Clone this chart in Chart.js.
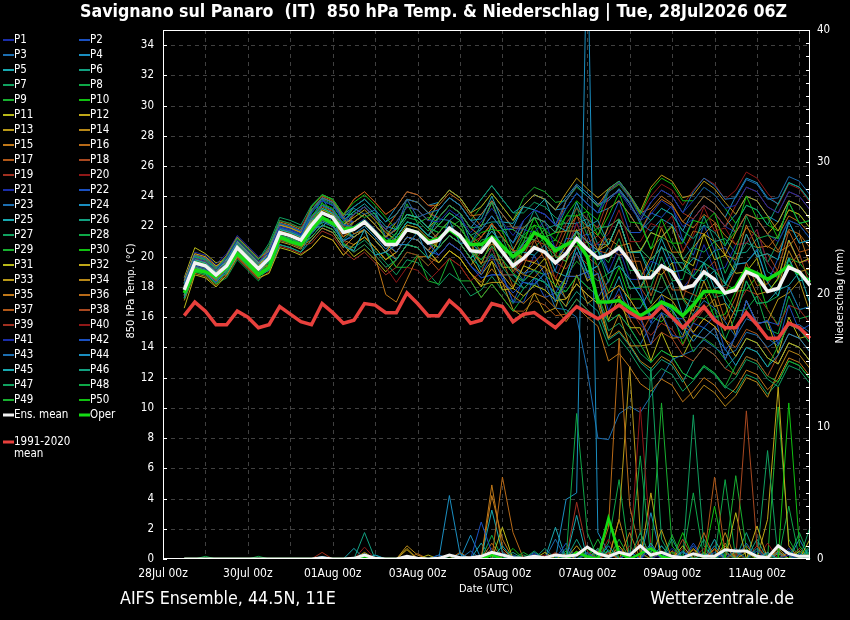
<!DOCTYPE html>
<html><head><meta charset="utf-8">
<script src="https://cdn.jsdelivr.net/npm/chart.js@4/dist/chart.umd.min.js"></script>
<style>html,body{margin:0;padding:0;background:#000;}canvas{display:block;}</style>
</head><body>
<canvas id="c" width="850" height="620"></canvas>
<script>
// ---- axis categories (6-hourly steps) ----
const dayNames = ['28Jul','29Jul','30Jul','31Jul','01Aug','02Aug','03Aug','04Aug','05Aug','06Aug','07Aug','08Aug','09Aug','10Aug','11Aug','12Aug'];
const hourNames = ['00z','06z','12z','18z'];
const timeSteps = dayNames.flatMap(d => hourNames.map(h => d + ' ' + h)).slice(0, 62);
const validTimes = timeSteps.slice(2); // forecast steps 28Jul 12z .. 12Aug 06z
const leftTicks = [0,2,4,6,8,10,12,14,16,18,20,22,24,26,28,30,32,34];
const rightLabels = [0,10,20,30,40];

// ---- 850 hPa temperature (deg C) ----
const tempMean = [17.8,19.6,19.4,18.8,19.4,20.6,19.9,19.2,19.9,21.6,21.4,21.1,22.1,22.9,22.6,21.6,21.8,22.3,21.6,20.8,20.8,21.8,21.6,20.9,21.1,21.9,21.4,20.4,20.3,21.2,20.3,19.4,19.9,20.6,20.3,19.6,20.2,21.2,20.5,19.9,20.1,20.6,19.7,18.6,18.6,19.4,19.0,17.9,18.1,19.0,18.5,17.6,17.8,19.0,18.7,17.7,17.9,19.3,19.0,18.1];
const tempOper = [17.6,19.1,19.0,18.7,19.3,20.2,19.6,18.8,19.3,21.3,21.0,20.8,21.8,22.6,22.2,21.8,21.9,22.3,21.6,21.0,21.0,21.8,21.6,21.0,21.2,21.8,21.3,20.8,20.8,21.3,20.7,20.0,20.5,21.6,21.2,20.4,20.8,21.1,20.0,17.0,17.0,17.1,16.6,16.1,16.5,17.0,16.7,16.1,16.8,17.7,17.7,17.6,18.0,19.2,18.9,18.5,18.9,19.4,18.9,18.3];
const climMean = [16.1,17.0,16.4,15.5,15.5,16.4,16.0,15.3,15.5,16.7,16.2,15.7,15.5,16.9,16.3,15.6,15.8,16.9,16.8,16.3,16.3,17.6,16.9,16.1,16.1,17.1,16.5,15.6,15.8,16.9,16.7,15.7,16.2,16.3,15.8,15.3,16.0,16.7,16.3,15.9,16.3,16.8,16.3,15.9,16.0,16.7,16.0,15.3,16.0,16.7,15.8,15.3,15.3,16.3,15.5,14.6,14.6,15.6,15.3,14.6];

const tP01 = [18.1,19.9,19.7,19.1,19.9,21.1,20.4,19.7,20.3,22.0,21.8,21.5,22.9,23.7,23.4,22.4,22.8,23.3,22.6,21.8,22.3,23.3,23.1,22.4,22.3,23.1,22.6,21.6,22.3,23.2,22.3,21.4,22.4,23.1,22.8,22.1,23.2,24.2,23.5,22.9,24.3,24.9,23.9,22.6,23.6,24.4,24.0,22.9,23.7,24.6,24.1,23.2,23.4,24.6,24.3,23.3,22.9,24.3,24.0,23.1];
const tP02 = [17.6,19.4,19.2,18.6,19.4,20.6,19.9,19.2,20.2,21.9,21.7,21.4,22.6,23.4,23.1,22.1,22.0,22.5,21.8,21.0,20.3,21.3,21.1,20.4,20.1,20.9,20.4,19.4,18.8,20.1,18.5,17.6,18.3,18.2,18.9,17.1,18.2,20.3,18.6,18.9,16.4,17.9,16.0,15.9,14.2,16.3,14.8,14.6,15.6,15.3,16.1,13.8,14.7,17.1,15.5,15.8,14.2,16.8,15.1,15.5];
const tP03 = [18.3,20.1,19.9,19.3,19.7,20.9,20.2,19.5,20.5,22.2,22.0,21.7,23.1,23.9,23.6,22.6,23.3,23.8,23.1,22.3,22.8,23.8,23.6,22.9,23.1,23.9,23.4,22.4,21.8,22.7,21.8,20.9,22.4,23.1,22.8,22.1,23.7,24.7,24.0,23.4,23.9,24.4,23.5,22.4,23.6,24.4,24.0,22.9,24.3,25.2,24.7,23.8,23.9,25.1,24.8,23.8,23.9,25.3,25.0,24.1];
const tP04 = [17.3,19.1,18.9,18.3,19.1,20.3,19.6,18.9,19.9,21.6,21.4,21.1,21.9,22.0,22.6,20.7,20.4,21.8,20.1,20.3,20.8,20.8,21.6,19.9,20.7,22.4,20.9,20.9,20.8,21.7,20.8,19.9,20.9,21.6,21.3,20.6,20.7,21.7,21.0,20.4,18.9,19.4,18.5,17.4,16.1,16.9,16.5,15.4,14.4,15.3,14.8,13.9,12.8,14.0,13.7,12.7,13.5,14.9,14.6,13.7];
const tP05 = [18.0,19.8,19.6,19.0,19.8,21.0,20.3,19.6,20.1,21.8,21.6,21.3,22.9,23.7,23.4,22.4,23.0,23.5,22.8,22.0,21.8,22.8,22.6,21.9,23.1,23.9,23.4,22.4,22.5,24.0,22.3,22.2,23.3,23.1,23.8,22.1,21.7,23.6,22.0,22.4,20.8,22.4,20.3,20.3,18.6,20.7,19.0,19.1,19.9,19.6,20.4,18.2,19.2,21.5,20.0,20.2,19.8,22.3,20.9,21.1];
const tP06 = [17.5,19.3,19.1,18.5,18.9,20.1,19.4,18.7,19.1,20.8,20.6,20.3,21.6,22.4,22.1,21.1,21.8,22.3,21.6,20.8,21.3,22.3,22.1,21.4,22.1,22.9,22.4,21.4,21.8,22.7,21.8,20.9,21.9,22.6,22.3,21.6,23.2,24.2,23.5,22.9,24.5,25.0,24.1,23.0,22.4,23.2,22.8,21.7,21.2,22.1,21.6,20.7,22.2,23.4,23.1,22.1,23.5,24.9,24.6,23.7];
const tP07 = [17.8,19.6,19.4,18.8,19.6,20.8,20.1,19.4,19.6,21.3,21.1,20.8,21.3,22.1,21.8,20.8,20.3,20.8,20.1,19.3,19.8,20.8,20.6,19.9,20.6,21.4,20.9,19.9,19.3,20.2,19.3,18.4,17.9,18.6,18.3,17.6,16.2,17.2,16.5,15.9,14.1,14.6,13.7,12.6,11.8,12.6,12.2,11.1,11.8,12.7,12.2,11.3,12.0,13.2,12.9,11.9,11.4,12.8,12.5,11.6];
const tP08 = [18.2,20.0,19.8,19.2,20.0,21.2,20.5,19.8,20.7,22.4,22.2,21.9,22.6,23.4,23.1,22.1,21.8,22.3,21.6,20.8,21.6,22.6,22.4,21.7,22.6,23.4,22.9,21.9,22.0,23.6,21.8,21.8,21.3,21.1,21.8,20.0,19.7,21.7,20.0,20.4,18.3,20.0,17.9,18.0,18.0,20.0,18.4,18.5,20.6,20.3,21.0,18.9,20.4,22.7,21.2,21.4,21.2,23.6,22.2,22.4];
const tP09 = [17.2,19.0,18.8,18.2,19.0,20.2,19.5,18.8,19.7,21.4,21.2,20.9,22.1,23.6,22.4,22.3,23.0,22.6,22.9,21.0,21.5,23.5,22.2,22.6,22.0,21.9,22.4,20.4,19.8,20.7,19.8,18.9,18.4,19.1,18.8,18.1,17.7,18.7,18.0,17.4,15.7,16.2,15.3,14.2,13.0,13.8,13.4,12.3,11.9,12.8,12.3,11.4,12.8,14.0,13.7,12.7,14.1,15.5,15.2,14.3];
const tP10 = [17.9,19.7,19.5,18.9,19.2,20.4,19.7,19.0,20.1,21.8,21.6,21.3,23.3,24.1,23.8,22.8,23.6,24.1,23.4,22.6,21.8,22.8,22.6,21.9,21.6,22.4,21.9,20.9,21.6,21.8,21.7,20.0,21.0,22.6,21.3,21.6,22.7,22.7,23.0,21.4,22.7,24.2,22.3,22.2,20.5,22.5,20.9,20.9,22.4,22.2,22.9,20.8,21.7,24.0,22.5,22.6,21.2,23.6,22.2,22.4];
const tP11 = [16.6,18.8,18.6,18.0,18.8,20.0,19.3,18.6,18.9,20.6,20.4,20.1,20.6,21.4,21.1,20.1,20.8,21.3,20.6,19.8,20.3,21.3,21.1,20.4,19.6,20.4,19.9,18.9,18.0,19.7,17.8,17.9,19.4,19.1,19.9,18.0,19.6,21.8,19.9,20.4,20.8,22.4,20.3,20.4,21.6,21.3,22.0,19.8,19.4,21.5,19.8,20.1,18.9,19.0,19.9,17.6,18.6,21.1,19.6,19.9];
const tP12 = [18.4,20.2,20.0,19.4,19.8,21.0,20.3,19.6,19.9,21.6,21.4,21.1,22.6,23.4,23.1,22.1,22.6,23.1,22.4,21.6,21.1,22.1,21.9,21.2,20.6,21.4,20.9,19.9,18.8,19.7,18.8,17.9,17.4,18.1,17.8,17.1,17.2,18.2,17.5,16.9,17.6,18.1,17.2,16.1,16.7,17.5,17.1,16.0,15.0,15.9,15.4,14.5,13.4,14.6,14.3,13.3,12.9,14.3,14.0,13.1];
const tP13 = [17.5,19.3,19.1,18.5,19.6,20.8,20.1,19.4,20.4,22.1,21.9,21.6,22.3,23.1,22.8,21.8,22.3,22.8,22.1,21.3,22.3,23.3,23.1,22.4,23.6,24.4,23.9,22.9,23.3,24.2,23.3,22.4,23.4,24.1,23.8,23.1,24.2,25.2,24.5,23.9,24.5,25.0,24.1,23.0,24.6,25.4,25.0,23.9,24.1,25.0,24.5,23.6,22.8,24.0,23.7,22.7,21.7,23.1,22.8,21.9];
const tP14 = [18.1,19.9,19.7,19.1,19.3,20.5,19.8,19.1,19.5,21.2,21.0,20.7,21.1,21.9,21.6,20.6,21.3,21.8,21.1,20.3,20.8,21.8,21.6,20.9,21.6,22.4,21.9,20.9,19.5,21.1,19.3,19.3,18.8,18.6,19.4,17.5,16.7,18.8,16.9,17.4,14.6,16.2,14.1,14.1,14.2,16.2,14.6,14.7,16.8,16.5,17.2,15.1,16.6,19.0,17.5,17.7,18.0,20.4,19.0,19.2];
const tP15 = [17.7,19.9,19.7,19.1,19.7,20.9,20.2,19.5,20.6,22.3,22.1,21.8,23.1,23.9,23.6,22.6,21.5,21.8,20.0,17.5,17.0,18.5,20.0,20.0,19.6,20.4,19.9,18.9,18.3,19.2,18.3,17.4,16.9,17.6,17.3,16.6,15.7,16.7,16.0,15.4,13.1,13.6,12.7,11.6,11.1,11.9,11.5,10.4,11.1,12.0,11.5,10.6,11.3,12.5,12.2,11.2,11.9,13.3,13.0,12.1];
const tP16 = [18.3,20.1,19.9,19.3,20.1,21.3,20.6,19.9,20.4,22.1,21.9,21.6,23.3,24.0,23.7,22.7,23.8,24.3,23.6,22.8,23.3,24.3,24.1,23.4,23.4,24.2,23.7,22.7,22.8,23.7,22.8,21.9,21.9,22.6,22.3,21.6,21.7,22.7,22.0,21.4,23.2,23.7,22.8,21.7,23.0,23.8,23.4,22.3,23.1,24.0,23.5,22.6,21.6,22.8,22.5,21.5,20.4,21.8,21.5,20.6];
const tP17 = [17.4,19.2,19.0,18.4,19.2,20.4,19.7,19.0,19.9,21.6,21.4,21.1,21.8,22.6,22.3,21.3,22.3,22.8,22.1,21.3,21.8,22.8,22.6,21.9,21.1,21.9,21.4,20.4,19.6,19.8,19.8,18.0,19.4,21.1,19.8,20.1,21.7,21.7,22.0,20.4,20.2,21.8,19.7,19.7,17.4,19.4,17.8,17.8,17.5,17.2,17.9,15.8,17.3,19.6,18.1,18.2,19.2,21.7,20.3,20.5];
const tP18 = [18.0,19.8,19.6,19.0,19.4,20.6,19.9,19.2,19.4,21.1,20.9,20.6,22.1,22.9,22.6,21.6,22.8,23.3,22.6,21.8,22.8,23.8,23.6,22.9,22.6,23.4,22.9,21.9,21.3,22.2,21.3,20.4,20.4,21.1,20.8,20.1,19.7,20.7,20.0,19.4,17.6,18.1,17.2,16.1,14.2,15.0,14.6,13.5,13.1,14.0,13.5,12.6,12.2,13.4,13.1,12.1,13.5,14.9,14.6,13.7];
const tP19 = [17.6,19.4,19.2,18.6,18.8,20.0,19.3,18.6,19.5,21.2,21.0,20.7,20.9,21.7,21.4,20.4,19.8,20.3,19.6,18.8,19.3,20.3,20.1,19.4,20.1,20.9,20.4,19.4,20.3,21.2,20.3,19.4,20.9,21.6,21.3,20.6,22.2,23.2,22.5,21.9,23.9,24.4,23.5,22.4,23.6,24.4,24.0,22.9,22.5,23.4,22.9,22.0,23.4,24.6,24.3,23.3,22.9,24.3,24.0,23.1];
const tP20 = [17.8,19.6,19.4,18.8,19.9,21.1,20.4,19.7,20.1,21.8,21.6,21.3,21.6,22.4,22.1,21.1,20.3,20.8,20.1,19.3,18.3,19.3,19.1,18.4,19.1,19.9,19.4,18.4,19.0,20.6,18.8,18.8,19.8,19.7,20.3,18.5,20.2,22.2,20.5,20.9,21.5,23.1,21.0,21.0,22.2,21.9,22.7,20.4,21.4,23.3,21.7,21.9,20.8,20.9,21.8,19.6,18.6,21.0,19.6,19.8];
const tP21 = [18.5,20.3,20.1,19.5,20.2,21.4,20.7,20.0,20.5,22.2,22.0,21.7,23.1,23.9,23.6,22.6,22.3,22.8,22.1,21.3,20.8,21.8,21.6,20.9,21.6,22.4,21.9,20.9,21.8,22.7,21.8,20.9,22.4,23.1,22.8,22.1,23.2,24.2,23.5,22.9,23.9,24.3,23.3,22.4,22.8,23.7,23.2,22.0,22.5,23.4,22.9,22.0,21.6,22.8,22.5,21.5,21.0,22.4,22.1,21.2];
const tP22 = [17.3,19.1,18.9,18.3,19.2,20.4,19.7,19.0,20.3,22.0,21.8,21.5,22.9,23.7,23.4,22.4,22.3,22.8,22.1,21.3,20.8,21.8,21.6,20.9,20.1,20.9,20.4,19.4,18.6,18.8,18.8,17.0,17.0,18.6,17.3,17.6,18.7,18.7,19.0,17.3,18.4,20.0,17.9,17.9,15.6,17.5,15.9,15.9,14.9,14.6,15.3,13.2,14.8,17.1,15.6,15.7,15.5,18.0,16.5,16.7];
const tP23 = [18.1,19.9,19.7,19.1,19.5,20.7,20.0,19.3,20.2,21.9,21.7,21.4,22.6,23.4,23.1,22.1,22.3,22.8,22.1,21.3,21.8,22.8,22.6,21.9,21.6,22.4,21.9,20.9,20.3,21.2,20.3,19.4,18.9,19.1,18.3,16.6,16.5,16.0,12.5,8.0,7.9,9.6,10.1,9.7,10.8,12.0,13.2,13.5,13.8,14.5,14.0,13.5,13.8,15.0,14.8,14.0,14.5,15.5,15.5,15.0];
const tP24 = [17.7,19.5,19.3,18.7,19.6,20.8,20.1,19.4,19.7,21.4,21.2,20.9,21.5,22.3,22.0,21.0,21.5,22.0,21.3,20.5,21.3,22.3,22.1,21.4,22.6,23.4,22.9,21.9,22.8,23.7,22.8,21.9,23.4,24.1,23.8,23.1,23.2,24.2,23.5,22.9,23.2,23.7,22.8,21.7,22.4,23.2,22.8,21.7,23.1,24.0,23.5,22.6,24.0,25.2,24.9,23.9,23.5,24.9,24.6,23.7];
const tP25 = [18.2,20.0,19.8,19.2,19.6,20.8,20.1,19.4,19.9,21.6,21.4,21.1,22.4,23.2,22.9,21.9,21.3,21.8,21.1,20.3,19.8,20.8,20.6,19.9,20.6,21.4,20.9,19.9,20.5,22.1,20.3,20.3,20.3,20.1,20.8,19.0,18.7,20.7,19.0,19.4,17.1,18.7,16.6,16.6,17.9,17.6,18.3,16.1,17.6,19.6,17.9,18.1,19.5,19.6,20.4,18.3,17.4,19.9,18.4,18.6];
const tP26 = [17.5,19.3,19.1,18.5,18.9,20.1,19.4,18.7,19.7,21.4,21.2,20.9,22.6,23.4,23.1,22.1,22.8,23.3,22.6,21.8,21.3,22.3,22.1,21.4,21.1,21.9,21.4,20.4,19.8,20.7,19.8,18.9,17.9,18.6,18.3,17.6,16.7,17.7,17.0,16.4,14.5,15.0,14.1,13.0,12.4,13.2,12.8,11.7,13.1,14.0,13.5,12.6,13.4,14.6,14.3,13.3,12.9,14.3,14.0,13.1];
const tP27 = [18.0,19.8,19.6,19.0,20.0,21.2,20.5,19.8,20.9,22.6,22.4,22.1,23.4,24.1,23.8,22.8,22.8,23.3,22.6,21.8,22.3,23.3,23.1,22.4,23.6,24.4,23.9,22.9,23.8,24.7,23.8,22.9,22.9,23.6,23.3,22.6,22.2,23.2,22.5,21.9,22.0,22.5,21.6,20.5,19.8,20.6,20.2,19.1,18.7,19.6,19.1,18.2,19.7,20.9,20.6,19.6,21.0,22.4,22.1,21.2];
const tP28 = [17.2,19.0,18.8,18.2,18.6,19.8,19.1,18.4,19.4,21.1,20.9,20.6,22.1,22.9,22.6,21.6,22.3,22.8,22.1,21.3,20.8,21.8,21.6,20.9,20.6,21.4,20.9,19.9,21.1,21.3,21.3,19.5,21.0,22.6,21.3,21.6,21.7,21.7,22.0,20.4,19.6,21.2,19.1,19.1,16.9,18.8,17.2,17.2,16.1,15.9,16.6,14.5,16.1,18.4,16.9,17.0,17.4,19.8,18.4,18.6];
const tP29 = [17.9,19.7,19.5,18.9,19.4,20.6,19.9,19.2,20.2,21.9,21.7,21.4,22.1,22.2,22.8,20.9,20.4,21.8,20.1,20.3,19.3,19.3,20.1,18.4,18.2,19.9,18.4,18.4,17.3,18.2,17.3,16.4,17.4,18.1,17.8,17.1,18.7,19.7,19.0,18.4,18.9,19.4,18.5,17.4,16.1,16.9,16.5,15.4,13.7,14.6,14.1,13.2,12.2,13.4,13.1,12.1,11.7,13.1,12.8,11.9];
const tP30 = [17.6,19.4,19.2,18.6,19.5,20.7,20.0,19.3,19.9,21.6,21.4,21.1,22.7,23.5,23.2,22.2,23.3,23.8,23.1,22.3,22.8,23.8,23.6,22.9,22.1,22.9,22.4,21.4,20.8,21.7,20.8,19.9,21.4,22.1,21.8,21.1,22.7,23.7,23.0,22.4,24.3,24.8,23.9,22.8,24.4,25.2,24.8,23.7,23.7,24.6,24.1,23.2,22.2,23.4,23.1,22.1,21.7,23.1,22.8,21.9];
const tP31 = [18.6,20.6,20.2,19.6,19.8,21.0,20.3,19.6,19.7,21.4,21.2,20.9,21.3,22.1,21.8,20.8,20.0,20.5,19.8,19.0,19.8,20.8,20.6,19.9,21.1,21.9,21.4,20.4,20.5,22.1,20.3,20.3,19.8,19.6,20.4,18.5,18.2,20.3,18.4,18.9,15.8,17.4,15.3,15.3,13.1,15.0,13.4,13.4,14.8,14.6,15.3,13.2,14.8,17.1,15.6,15.7,13.6,16.0,14.6,14.8];
const tP32 = [17.4,19.2,19.0,18.4,19.4,20.6,19.9,19.2,20.4,22.1,21.9,21.6,23.1,23.9,23.6,22.6,22.3,22.8,22.1,21.3,21.8,22.8,22.6,21.9,22.6,23.4,22.9,21.9,21.3,22.2,21.3,20.4,19.9,20.6,20.3,19.6,20.7,21.7,21.0,20.4,22.0,22.5,21.6,20.5,19.8,20.6,20.2,19.1,20.6,21.5,21.0,20.1,21.6,22.8,22.5,21.5,22.3,23.7,23.4,22.5];
const tP33 = [17.8,19.6,19.4,18.8,19.1,20.3,19.6,18.9,19.3,21.0,20.8,20.5,21.8,22.6,22.3,21.3,21.8,22.3,21.6,20.8,20.3,21.3,21.1,20.4,19.6,20.4,19.9,18.9,18.1,18.3,18.3,16.5,16.0,17.6,16.3,16.6,18.7,18.7,19.0,17.3,18.4,20.0,17.9,17.9,19.1,18.8,19.6,17.3,16.4,18.4,16.7,16.9,14.8,17.1,15.6,15.7,17.2,17.6,18.4,16.3];
const tP34 = [18.3,20.1,19.9,19.3,19.6,20.8,20.1,19.4,20.5,22.2,22.0,21.7,22.1,22.9,22.6,21.6,21.3,21.8,21.1,20.3,21.3,22.3,22.1,21.4,22.1,22.9,22.4,21.4,20.3,21.2,20.3,19.4,18.9,19.6,19.3,18.6,17.2,18.2,17.5,16.9,14.6,15.1,14.2,13.1,12.6,13.4,13.0,11.9,10.6,11.5,11.0,10.1,10.8,12.0,11.7,10.7,12.4,13.8,13.5,12.6];
const tP35 = [17.1,18.9,18.7,18.1,19.0,20.2,19.5,18.8,19.9,21.6,21.4,21.1,22.6,23.4,23.1,22.1,22.8,23.3,22.6,21.8,22.8,23.8,23.6,22.9,23.6,24.4,23.9,22.9,22.0,23.6,21.8,21.8,21.3,21.1,21.8,20.0,19.7,21.7,20.0,20.4,21.2,20.7,20.9,18.6,20.0,21.9,20.3,20.3,21.7,21.5,22.2,20.1,19.8,22.1,20.6,20.7,20.3,20.7,21.5,19.4];
const tP36 = [18.0,19.8,19.6,19.0,19.7,20.9,20.2,19.5,20.0,21.7,21.5,21.2,21.6,22.4,22.1,21.1,20.8,21.3,20.6,19.8,20.3,21.3,21.1,20.4,21.1,21.9,21.4,20.4,21.3,22.2,21.3,20.4,21.9,22.6,22.3,21.6,23.7,24.7,24.0,23.4,24.4,24.9,24.0,22.9,23.2,24.0,23.5,22.3,21.9,22.8,22.3,21.4,20.8,21.9,21.4,20.6,21.4,22.7,22.3,21.5];
const tP37 = [17.7,19.5,19.3,18.7,19.1,20.3,19.6,18.9,20.1,21.8,21.6,21.3,22.5,23.3,23.0,22.0,21.8,22.3,21.6,20.8,19.8,20.8,20.6,19.9,19.1,19.9,19.4,18.4,17.3,18.2,17.3,16.4,16.4,17.1,16.8,16.1,16.2,17.2,16.5,15.9,16.3,16.8,15.9,14.8,16.1,16.9,16.5,15.4,15.0,15.9,15.4,14.5,14.0,15.2,14.9,13.9,12.9,14.3,14.0,13.1];
const tP38 = [18.1,19.9,19.7,19.1,19.9,21.1,20.4,19.7,20.2,21.9,21.7,21.4,22.6,23.4,23.1,22.1,22.8,23.3,22.6,21.8,20.8,21.8,21.6,20.9,20.6,21.4,20.9,19.9,20.6,20.8,20.8,19.0,20.0,21.6,20.3,20.6,20.7,22.8,20.9,21.4,20.6,20.1,20.3,18.0,16.9,18.8,17.2,17.2,19.2,19.0,19.7,17.6,19.2,21.5,20.0,20.2,19.0,19.4,20.2,18.1];
const tP39 = [17.3,19.1,18.9,18.3,18.7,19.9,19.2,18.5,19.0,20.7,20.5,20.2,20.6,21.4,21.1,20.1,20.8,21.3,20.6,19.8,20.3,21.3,21.1,20.4,21.6,22.4,21.9,20.9,21.3,22.2,21.3,20.4,19.9,20.6,20.3,19.6,19.2,20.2,19.5,18.9,17.0,17.5,16.6,15.5,14.8,15.6,15.2,14.1,15.6,16.5,16.0,15.1,16.6,17.8,17.5,16.5,15.4,16.8,16.5,15.6];
const tP40 = [18.4,20.2,20.0,19.4,19.8,21.0,20.3,19.6,20.7,22.4,22.2,21.9,23.3,24.1,23.8,22.8,23.8,24.3,23.6,22.8,23.3,24.3,24.1,23.4,23.1,23.9,23.4,22.4,21.8,22.7,21.8,20.9,22.4,23.1,22.8,22.1,23.7,24.7,24.0,23.4,24.3,24.8,23.9,22.8,24.0,24.8,24.4,23.4,24.4,25.2,24.8,23.8,24.4,25.6,25.2,24.2,23.4,24.8,24.5,23.6];
const tP41 = [17.6,19.4,19.2,18.6,19.3,20.5,19.8,19.1,19.6,21.3,21.1,20.8,22.1,22.9,22.6,21.6,22.3,22.8,22.1,21.3,21.8,22.8,22.6,21.9,22.6,23.4,22.9,21.9,22.0,23.7,21.8,21.9,21.8,21.6,22.4,20.5,20.2,22.3,20.4,20.9,19.0,20.6,18.5,18.5,19.7,19.4,20.2,17.9,18.8,20.8,19.1,19.3,20.8,20.9,21.8,19.6,18.6,21.1,19.6,19.8];
const tP42 = [17.9,19.7,19.5,18.9,19.8,21.0,20.3,19.6,19.9,21.6,21.4,21.1,21.6,22.4,22.1,21.1,21.3,21.8,21.1,20.3,20.8,21.8,21.6,20.9,20.1,20.9,20.4,19.4,18.6,18.8,18.8,17.0,18.5,20.1,18.8,19.1,21.2,21.2,21.5,19.8,22.1,23.7,21.6,21.6,22.9,22.6,23.4,21.1,20.1,22.1,20.4,20.6,19.5,19.6,20.5,18.3,19.9,22.3,20.9,21.1];
const tP43 = [17.4,19.2,19.0,18.4,19.2,20.4,19.7,19.0,20.1,21.8,21.6,21.3,22.4,23.9,22.7,22.6,23.2,22.8,23.1,21.3,21.9,23.8,22.6,22.9,22.5,22.4,22.9,20.9,20.3,21.2,20.3,19.4,18.4,19.1,18.8,18.1,17.2,18.2,17.5,16.9,15.7,16.2,15.3,14.2,15.5,16.3,15.9,14.8,16.2,17.1,16.6,15.7,14.7,15.9,15.6,14.6,14.1,15.5,15.2,14.3];
const tP44 = [18.2,20.0,19.8,19.2,20.1,21.3,20.6,19.9,20.4,22.1,21.9,21.6,23.3,24.1,23.8,22.8,23.3,23.8,23.1,22.3,23.3,24.3,24.1,23.4,23.6,24.4,23.9,22.9,23.8,24.7,23.8,22.9,23.4,24.1,23.8,23.1,23.9,24.8,24.2,23.5,23.7,24.5,23.6,22.2,21.7,22.5,22.1,21.0,22.5,23.4,22.9,22.0,22.8,24.0,23.7,22.7,22.3,23.7,23.4,22.5];
const tP45 = [17.8,19.6,19.4,18.8,19.0,20.2,19.5,18.8,19.1,20.8,20.6,20.3,21.1,21.9,21.6,20.6,21.3,21.8,21.1,20.3,21.3,22.3,22.1,21.4,21.1,21.9,21.4,20.4,19.0,20.6,18.8,18.8,18.3,18.1,18.9,17.0,18.7,20.7,19.0,19.4,20.6,20.1,20.3,18.0,19.3,21.2,19.6,19.6,18.6,18.4,19.1,17.0,16.1,18.4,16.9,17.0,17.8,18.1,19.0,16.9];
const tP46 = [18.0,19.8,19.6,19.0,19.6,20.8,20.1,19.4,20.5,22.2,22.0,21.7,22.4,23.2,22.9,21.9,21.8,22.3,21.6,20.8,20.3,21.3,21.1,20.4,21.6,22.4,21.9,20.9,22.1,22.3,22.3,20.5,21.5,23.1,21.8,22.1,22.2,22.2,22.5,20.8,20.8,22.4,20.3,20.3,21.6,21.3,22.1,19.8,20.7,22.7,21.0,21.2,20.2,20.3,21.2,19.0,18.6,21.1,19.6,19.8];
const tP47 = [17.5,19.3,19.1,18.5,19.4,20.6,19.9,19.2,19.4,21.1,20.9,20.6,21.3,22.1,21.8,20.8,20.6,21.1,20.4,19.6,18.8,19.8,19.6,18.9,18.1,18.9,18.4,17.4,17.8,18.7,17.8,16.9,17.9,18.6,18.3,17.6,17.7,18.7,18.0,17.4,15.1,15.6,14.7,13.6,13.0,13.8,13.4,12.3,11.9,12.8,12.3,11.4,11.0,12.2,11.9,10.9,11.7,13.1,12.8,11.9];
const tP48 = [18.3,20.1,19.9,19.3,19.7,20.9,20.2,19.5,20.3,22.0,21.8,21.5,23.0,23.8,23.5,22.5,22.3,22.8,22.1,21.3,21.8,22.8,22.6,21.9,21.1,21.9,21.4,20.4,19.5,21.1,19.3,19.3,20.8,20.6,21.3,19.5,21.2,23.3,21.4,21.9,20.8,22.4,20.3,20.3,19.1,18.8,19.6,17.3,17.0,19.0,17.3,17.5,16.4,16.5,17.4,15.2,14.9,17.4,15.9,16.1];
const tP49 = [17.7,19.5,19.3,18.7,19.9,21.1,20.4,19.7,20.2,21.9,21.7,21.4,22.1,22.9,22.6,21.6,22.3,22.8,22.1,21.3,21.8,22.8,22.6,21.9,23.1,23.9,23.4,22.4,23.3,24.2,23.3,22.4,23.9,24.6,24.3,23.6,23.7,24.6,24.0,23.3,23.9,24.4,23.5,22.4,20.5,21.3,20.9,19.8,18.7,19.6,19.1,18.2,17.8,19.0,18.7,17.7,18.5,19.9,19.6,18.7];
const tP50 = [18.1,19.3,19.1,18.5,19.1,20.3,19.6,18.9,19.9,21.6,21.4,21.1,22.3,23.1,22.8,21.8,21.3,21.8,21.1,20.3,19.3,20.3,20.1,19.4,20.1,20.9,20.4,19.4,20.6,20.8,20.8,19.0,20.5,22.1,20.8,21.1,20.7,20.7,21.0,19.3,17.7,19.3,17.2,17.2,16.0,15.7,16.5,14.2,15.7,17.7,16.0,16.2,17.7,17.8,18.7,16.5,15.5,18.0,16.5,16.7];

// ---- 6-hourly precipitation (mm) ----
const precipMean = [0,0,0,0, 0,0,0,0, 0,0,0,0, 0,.1,0,0, .05,.3,.05,0, 0,.2,.05,0, .05,.3,.1,.1, .2,.5,.3,.1, .05,.2,.1,.3, .2,.3,.9,.4, .2,.5,.3,1.0, .3,.5,.2,.1, .4,.2,.2,.7, .6,.6,.2,.1, 1.0,.4,.2,.2];
const precipOper = [0,0,0,0, 0,0,0,0, 0,0,0,0, 0,0,0,0, 0,.2,0,0, 0,0,0,0, 0,0,0,0, 0,.3,0,0, 0,0,0,0, 0,.5,.2,0, 3.1,.5,0,.4, .8,.2,0,0, 0,0,0,0, 0,0,0,0, 0,0,0,0];

const pP01 = [0,0,0,0, 0,0,0,0, 0,0,0,0, 0,0,0,0, 0,0,0,0, 0,0,0,0, 0,0,0,0, 0,.3,0,0, 0,.2,0,0, 0,0,0,0, 0,.6,0,0, 0,.4,0,0, 0,0,0,0, .8,0,0,0, 0,.3,0,0];
const pP02 = [0,0,0,0, 0,0,0,0, 0,0,0,0, 0,0,0,0, 0,0,0,0, 0,0,0,0, .3,0,0,0, 2.8,.5,0,0, 0,0,0,0, 0,0,.4,0, 0,0,0,0, 1,0,0,0, 0,0,.5,0, 0,0,0,0, 0,0,0,0];
const pP03 = [0,0,0,0, 0,0,0,0, 0,0,0,0, 0,0,0,0, 0,.4,0,0, 0,0,0,0, 0,0,0,.6, 0,0,0,0, 0,0,0,0, .8,0,0,0, 0,0,.5,0, 0,0,0,0, 0,0,0,0, 0,1.2,0,0, 0,0,.4,0];
const pP04 = [0,0,0,0, 0,0,0,0, 0,0,0,0, 0,0,0,0, 0,0,0,0, 0,0,0,0, 0,4.8,.4,0, 0,0,0,.2, 0,0,0,0, 0,0,0,0, 1,0,0,0, 0,0,0,.6, 0,0,0,0, 0,0,0,.5, 0,0,0,0];
const pP05 = [0,0,0,0, 0,0,0,0, 0,0,0,0, 0,0,0,0, .8,0,.3,0, 0,0,0,0, 0,0,0,0, 0,0,1,0, 0,0,0,0, 0,3.3,0,0, 0,0,0,0, 1.2,0,0,0, 0,0,0,0, 0,0,0,0, 0,0,0,.8];
const pP06 = [0,0,0,0, 0,0,0,0, 0,0,0,0, 0,0,0,0, 0,0,0,0, 0,0,0,0, 0,0,0,0, 0,0,0,.5, 0,0,0,.3, 0,0,0,.8, 0,0,0,0, 0,0,1.5,0, 0,0,0,.6, 0,0,0,0, 0,0,0,0];
const pP07 = [0,0,0,0, 0,0,0,0, 0,0,0,0, 0,0,0,0, 0,0,0,0, 0,0,0,0, 0,0,0,0, 0,0,0,0, 0,.6,0,0, 0,0,0,0, 0,0,0,2, 0,0,0,0, 0,1.5,0,0, 0,0,0,.4, 0,0,0,2.4];
const pP08 = [0,0,.2,0, 0,0,0,.2, 0,0,0,0, 0,0,0,0, 0,0,0,0, 0,0,0,0, 0,0,0,0, 0,0,0,0, 0,0,0,0, 0,11,2,0, 0,0,0,7.8, 0,0,0,0, 0,0,0,0, 0,0,0,0, 0,0,2,0];
const pP09 = [0,0,0,0, 0,0,0,0, 0,0,0,0, 0,0,0,0, 0,0,0,0, 0,0,0,0, 0,0,0,0, 0,0,0,0, .5,0,0,0, 0,0,0,0, 0,1.5,0,0, 0,11.8,1,0, 0,0,0,0, .8,0,0,0, 0,0,0,0];
const pP10 = [0,0,0,0, 0,0,0,0, 0,0,0,0, 0,0,0,0, 0,0,0,0, 0,0,0,0, 0,0,0,0, 0,0,0,0, 0,0,0,0, 0,0,.8,0, 3,0,0,0, 0,0,0,0, 0,0,4,0, 0,0,0,0, 0,11.8,1,0];
const pP11 = [0,0,0,0, 0,0,0,0, 0,0,0,0, 0,0,0,0, 0,0,0,0, 0,0,0,.3, 0,0,0,0, 0,0,2.4,0, 0,0,0,0, 0,0,0,0, 0,0,0,0, 0,0,0,1, 0,0,0,0, 0,.5,0,0, 0,0,0,1.5];
const pP12 = [0,0,0,0, 0,0,0,0, 0,0,0,0, 0,0,0,0, 0,.5,0,0, 0,0,0,0, 0,0,0,0, 0,0,0,0, 0,0,0,0, 0,1,0,0, 0,0,0,0, 5,0,0,0, 0,0,0,0, 0,0,2.5,0, .8,0,0,0];
const pP13 = [0,0,0,0, 0,0,0,0, 0,0,0,0, 0,0,0,0, 0,0,0,0, 0,.7,0,0, 0,0,0,0, 0,.4,0,0, 0,0,0,0, 0,0,0,.6, 0,0,0,0, 0,2.2,0,0, 0,0,0,1, 0,0,0,0, 0,0,0,0];
const pP14 = [0,0,0,0, 0,0,0,0, 0,0,0,0, 0,0,0,0, 0,0,0,0, 0,1,.3,0, 0,0,0,0, 0,0,0,0, 0,0,0,0, 0,0,0,0, 0,3,0,0, 0,0,0,0, 0,0,0,2, 0,0,0,0, .6,0,0,0];
const pP15 = [0,0,0,0, 0,0,0,0, 0,0,0,0, 0,0,0,0, 0,0,0,0, 0,0,0,0, 0,0,0,0, 0,5.6,.8,0, 0,0,0,0, 0,0,0,0, 0,0,2,0, 0,0,0,0, .7,0,0,0, 0,0,0,.5, 0,0,0,0];
const pP16 = [0,0,0,0, 0,0,0,0, 0,0,0,0, 0,0,0,0, 0,0,0,0, 0,0,0,0, 0,0,.5,0, 0,0,6.2,2, 0,0,0,0, 0,0,0,0, 2.4,16.7,4,.5, 0,0,0,0, 0,0,0,0, 0,0,0,0, 0,0,0,0];
const pP17 = [0,0,0,0, 0,0,0,0, 0,0,0,0, 0,0,0,0, 0,0,0,0, 0,0,0,0, 0,0,0,0, 0,0,0,0, 0,0,0,.4, 0,0,0,0, 0,0,0,0, 1,0,0,0, 0,0,6.2,.5, 0,0,0,0, 0,0,0,0];
const pP18 = [0,0,0,0, 0,0,0,0, 0,0,0,0, 0,0,0,0, 0,0,0,0, 0,0,0,0, 0,0,0,0, 0,.8,0,0, 0,0,0,0, 0,0,0,0, .5,0,0,0, 0,0,0,1.5, 0,0,0,0, 0,11.2,1,0, 0,0,0,0];
const pP19 = [0,0,0,0, 0,0,0,0, 0,0,0,0, 0,.5,0,0, 0,0,0,0, 0,0,0,0, 0,0,0,0, 0,0,0,0, 0,0,0,0, 0,4.3,.6,0, 0,0,0,0, 0,0,0,0, 0,.8,0,0, 0,0,0,0, 0,.5,0,0];
const pP20 = [0,0,0,0, 0,0,0,0, 0,0,0,0, 0,0,0,0, 0,.9,0,0, 0,0,0,0, 0,0,0,0, 0,0,0,0, 0,0,.3,0, 0,0,0,0, 0,0,0,11.5, 1,0,0,0, 0,0,0,0, .4,0,0,0, 0,0,0,0];
const pP21 = [0,0,0,0, 0,0,0,0, 0,0,0,0, 0,0,0,0, 0,0,0,0, 0,0,0,0, 0,0,0,0, 0,0,0,.3, 0,0,0,0, 0,0,0,.5, 0,0,0,0, 0,0,.8,0, 0,0,0,0, 0,0,.6,0, 0,0,.3,0];
const pP22 = [0,0,0,0, 0,0,0,0, 0,0,0,0, 0,0,0,0, 0,0,0,0, 0,0,0,0, 0,0,0,0, 0,0,.4,0, 0,0,0,0, 1.2,0,0,0, 0,0,.6,0, 0,0,0,0, 1,0,0,0, 0,0,0,.3, 0,0,0,0];
const pP23 = [0,0,0,0, 0,0,0,0, 0,0,0,0, 0,0,0,0, 0,0,0,0, 0,0,0,0, 0,0,0,0, 0,0,0,0, 0,.5,0,1.5, 0,0,0,.7, 0,0,0,0, 0,0,0,.5, 0,0,0,0, 0,0,0,0, .5,0,0,0];
const pP24 = [0,0,0,0, 0,0,0,0, 0,0,0,0, 0,.2,0,0, 0,0,0,0, 0,0,0,0, 0,0,0,1.8, 0,0,0,0, 0,0,0,0, 0,0,0,0, 0,0,0,0, 3.5,0,0,0, 0,0,1,0, 0,0,0,0, 0,.6,0,0];
const pP25 = [0,0,0,0, 0,0,0,0, 0,0,0,0, 0,0,0,0, 0,0,0,0, 0,0,0,0, 0,0,0,0, 0,3.7,.5,0, 0,0,0,0, 0,0,0,0, .6,0,0,0, 0,0,0,0, 0,.4,0,0, 0,0,.8,0, 0,0,0,0];
const pP26 = [0,0,0,0, 0,0,0,0, 0,0,0,0, 0,0,0,0, 0,2,0,0, 0,0,0,0, 0,0,0,0, 0,0,0,0, 0,0,0,0, 0,1.5,0,0, 0,0,0,0, 0,1,0,0, 0,0,0,0, 0,0,1.5,0, 0,0,0,.5];
const pP27 = [0,0,0,0, 0,0,0,0, 0,0,0,0, 0,0,0,0, 0,0,0,0, 0,0,0,0, 0,0,0,0, 0,0,0,0, .3,0,0,0, 0,0,0,0, 0,0,0,0, 14.5,1.5,0,0, 0,0,0,0, 0,0,0,8.2, 0,0,0,1];
const pP28 = [0,0,0,0, 0,0,0,0, 0,0,0,0, 0,0,0,0, 0,0,0,0, 0,0,0,0, 0,0,0,0, 0,1.8,0,0, 0,0,0,0, 0,.5,0,0, 0,0,0,0, 0,0,0,0, 5,0,0,0, .5,0,0,0, 0,0,0,0];
const pP29 = [0,0,0,0, 0,0,0,0, 0,0,0,0, 0,0,0,0, 0,0,0,0, 0,0,0,0, 0,0,0,0, 0,0,0,0, 0,0,0,0, 0,0,0,1.5, 0,0,0,0, 0,0,1.8,0, 0,0,0,0, 6.3,.8,0,0, 0,0,0,0];
const pP30 = [0,0,0,0, 0,0,0,0, 0,0,0,0, 0,0,0,0, 0,0,0,0, 0,0,0,0, 0,0,0,0, 0,0,0,.8, 0,0,0,0, 0,0,.3,0, 0,0,0,0, 0,0,0,2, 0,0,0,0, 0,0,0,0, .5,0,0,0];
const pP31 = [0,0,0,0, 0,0,0,0, 0,0,0,0, 0,0,0,0, 0,0,0,0, 0,0,0,0, 0,0,0,0, 0,0,0,0, 0,0,.5,0, 0,0,0,0, 0,1,0,0, 0,0,0,0, 0,0,0,0, 3.5,0,0,0, 0,0,.6,0];
const pP32 = [0,0,0,0, 0,0,0,0, 0,0,0,0, 0,0,0,0, 0,0,0,0, 0,0,0,0, 0,0,0,0, 0,0,0,0, 0,0,0,0, .4,0,0,0, 0,0,0,0, 0,0,0,0, .8,0,0,0, 0,0,0,3, 13,1,0,0];
const pP33 = [0,0,0,0, 0,0,0,0, 0,0,0,0, 0,0,0,0, 0,0,0,0, 0,.8,0,0, 0,0,0,0, 0,0,0,0, 0,0,0,0, 0,0,0,0, 0,3,14.5,2, 0,0,0,0, 0,.5,0,0, 0,0,0,0, 0,0,0,0];
const pP34 = [0,0,0,0, 0,0,0,0, 0,0,0,0, 0,0,0,0, 0,0,0,0, 0,0,0,0, 0,0,0,0, 0,0,0,0, 0,0,0,0, 0,0,0,.8, 0,0,0,0, 0,.5,0,0, 0,0,0,1.2, 0,0,0,0, .4,0,0,0];
const pP35 = [0,0,0,0, 0,0,0,0, 0,0,0,0, 0,0,0,0, 0,0,0,0, 0,0,0,0, 0,0,0,0, 0,4.8,1.5,0, 0,0,0,0, 0,0,0,0, .4,0,0,0, 0,0,0,0, 0,0,.8,0, 0,0,0,0, 0,0,0,0];
const pP36 = [0,0,0,0, 0,0,0,0, 0,0,0,0, 0,0,0,0, 0,0,0,0, 0,0,0,0, 0,0,0,0, 0,1.2,0,0, 0,0,0,0, 0,.6,0,0, 0,0,0,0, 0,0,0,0, 0,2,0,0, 0,0,0,0, 0,.5,0,0];
const pP37 = [0,0,0,0, 0,0,0,0, 0,0,0,0, 0,0,0,0, 0,0,0,0, 0,0,.4,0, 0,0,0,0, 0,0,0,0, 0,0,0,0, 0,0,.4,0, 0,0,0,0, 0,0,.6,0, 0,0,0,0, 0,1,0,0, 0,0,0,0];
const pP38 = [0,0,0,0, 0,0,0,0, 0,0,0,0, 0,0,0,0, 0,0,0,0, 0,0,0,0, 0,0,0,0, 0,0,0,0, 0,.3,0,0, 0,0,0,0, 0,0,0,1.5, 0,0,0,0, 0,0,.7,0, 0,0,0,0, 0,0,.8,0];
const pP39 = [0,0,0,0, 0,0,0,0, 0,0,0,0, 0,0,0,0, 0,0,0,0, 0,0,0,0, 0,0,0,0, 0,0,0,0, 0,0,0,.5, 0,0,0,0, 0,0,1,0, 0,0,0,0, 0,0,0,0, 0,0,1,0, 0,0,0,.4];
const pP40 = [0,0,0,0, 0,0,0,0, 0,0,0,0, 0,0,0,0, 0,0,0,0, 0,0,0,0, 0,0,0,0, 0,0,.6,0, 0,0,0,0, 0,0,0,0, 1.5,0,0,0, 0,0,0,.8, 0,0,0,0, 0,0,0,1.2, 0,0,0,0];
const pP41 = [0,0,0,0, 0,0,0,0, 0,0,0,0, 0,0,0,0, 0,0,0,0, 0,0,0,0, 0,0,0,0, 0,0,0,0, 0,0,0,0, .3,0,0,0, 0,0,0,0, .6,0,0,0, 0,0,0,.4, 0,0,0,0, 0,.8,0,0];
const pP42 = [0,0,0,0, 0,0,0,0, 0,0,0,0, 0,0,0,0, 0,0,0,0, 0,0,0,0, 0,0,0,0, 0,0,0,0, 0,.4,0,0, 0,0,0,0, 0,.8,0,0, 0,0,0,0, 1.2,0,0,0, 0,0,0,0, .6,0,0,0];
const pP43 = [0,0,0,0, 0,0,0,0, 0,0,0,0, 0,0,0,0, 0,0,.3,0, 0,0,0,0, 0,0,0,0, 0,0,0,0, 0,0,0,0, 0,0,.5,0, 0,0,0,0, 0,1,0,0, 0,0,0,0, .6,0,0,0, 0,0,0,0];
const pP44 = [0,0,0,0, 0,0,0,0, 0,0,0,0, 0,0,0,0, 0,0,0,0, 0,0,0,0, 0,0,.4,0, 0,0,0,0, 0,0,0,0, 4.5,5,48,2, .5,0,0,0, 0,0,0,0, 0,0,0,0, 0,0,0,0, 0,0,1.5,0];
const pP45 = [0,0,0,0, 0,0,0,0, 0,0,0,0, 0,0,0,0, 0,0,0,0, 0,0,0,0, 0,0,0,0, 1.2,0,0,0, 0,0,0,2.4, 0,0,0,0, 0,0,.5,0, 0,0,0,0, 0,0,1.5,0, 0,0,0,0, 0,0,0,0];
const pP46 = [0,0,0,0, 0,0,0,0, 0,0,0,0, 0,0,0,0, 0,0,0,0, 0,0,0,0, 0,0,0,0, 0,0,0,0, 0,0,.8,0, 0,0,0,0, 0,.5,0,0, 0,0,0,0, 0,0,0,0, 0,2,0,0, 0,0,0,.6];
const pP47 = [0,0,0,0, 0,0,0,0, 0,0,0,0, 0,0,0,0, 0,0,0,0, 0,0,0,0, .3,0,0,0, 0,0,0,0, 0,0,0,0, 0,0,0,.4, 0,0,0,0, 0,0,0,0, 10.9,1,0,0, 0,0,0,0, 0,0,0,0];
const pP48 = [0,0,0,0, 0,0,0,0, 0,0,0,0, 0,0,0,0, 0,0,0,0, 0,0,0,0, 0,0,0,0, 0,0,0,0, 0,0,0,0, 0,0,0,0, 1.2,6,0,0, 0,0,0,0, 0,0,0,6, 0,0,0,0, 0,4,0,0];
const pP49 = [0,0,0,0, 0,0,0,0, 0,0,0,0, 0,0,0,0, 0,0,0,0, 0,0,0,0, 0,0,0,0, 0,0,0,0, 0,0,0,0, .6,0,0,0, 0,0,0,.4, 0,0,0,0, 0,0,0,0, 0,0,0,0, 11.5,1.5,0,0];
const pP50 = [0,0,0,0, 0,0,0,0, 0,0,0,0, 0,0,0,0, 0,0,0,0, 0,0,0,0, 0,0,0,0, 0,0,0,.3, 0,0,0,0, 0,0,0,0, .7,0,0,0, 0,0,.5,0, 0,0,0,0, 0,0,.6,0, 0,0,0,0];

const tempMembers = [tP01,tP02,tP03,tP04,tP05,tP06,tP07,tP08,tP09,tP10,tP11,tP12,tP13,tP14,tP15,tP16,tP17,tP18,tP19,tP20,tP21,tP22,tP23,tP24,tP25,tP26,tP27,tP28,tP29,tP30,tP31,tP32,tP33,tP34,tP35,tP36,tP37,tP38,tP39,tP40,tP41,tP42,tP43,tP44,tP45,tP46,tP47,tP48,tP49,tP50];
const precipMembers = [pP01,pP02,pP03,pP04,pP05,pP06,pP07,pP08,pP09,pP10,pP11,pP12,pP13,pP14,pP15,pP16,pP17,pP18,pP19,pP20,pP21,pP22,pP23,pP24,pP25,pP26,pP27,pP28,pP29,pP30,pP31,pP32,pP33,pP34,pP35,pP36,pP37,pP38,pP39,pP40,pP41,pP42,pP43,pP44,pP45,pP46,pP47,pP48,pP49,pP50];
const memberNames = tempMembers.map((_, k) => 'P' + (k + 1));

// ---- styles ----
const palette = ['#1a2ea8','#1a50c0','#1c6eb0','#1a8ec0','#18a8b0','#12a080','#10a060','#0ea848','#18b030','#10c010','#b8b818','#c0a818','#b89818','#b88818','#c07818','#b86a18','#b05818','#a84820','#a03020','#901818'];
const COND = "'DejaVu Sans Condensed', 'DejaVu Sans', sans-serif";
const WHITE = '#ffffff', MEANCOL = '#f2f2f2', OPERCOL = '#14dc14', CLIMCOL = '#e8403c';

const toPts = arr => arr.map((v, i) => ({x: validTimes[i], y: v}));
const datasets = [];
datasets.push({label:'1991-2020 mean', data: toPts(climMean), yAxisID:'y', borderColor: CLIMCOL, borderWidth:3.5, order:0});
datasets.push({label:'Ens. mean', data: toPts(tempMean), yAxisID:'y', borderColor: MEANCOL, borderWidth:3.5, order:1});
datasets.push({label:'Oper', data: toPts(tempOper), yAxisID:'y', borderColor: OPERCOL, borderWidth:3.5, order:2});
datasets.push({label:'Precip mean', data: toPts(precipMean), yAxisID:'y2', borderColor: MEANCOL, borderWidth:3, order:3});
datasets.push({label:'Precip oper', data: toPts(precipOper), yAxisID:'y2', borderColor: OPERCOL, borderWidth:2.5, order:4});
precipMembers.forEach((arr, k) => datasets.push({label: memberNames[k] + ' precip', data: toPts(arr), yAxisID:'y2', borderColor: palette[k % 20], borderWidth:1, order:5}));
tempMembers.forEach((arr, k) => datasets.push({label: memberNames[k], data: toPts(arr), yAxisID:'y', borderColor: palette[k % 20], borderWidth:1, order:6}));

function fitSize(ctx, text, weight, targetW) {
  ctx.font = weight + ' 20px ' + COND;
  return 20 * targetW / ctx.measureText(text).width;
}

const decor = {
  id: 'decor',
  beforeDraw(chart) {
    const c = chart.ctx; c.save(); c.fillStyle = '#000'; c.fillRect(0, 0, chart.width, chart.height); c.restore();
  },
  beforeDatasetsDraw(chart) {
    const {ctx, chartArea: a, scales: {x, y}} = chart;
    ctx.save();
    ctx.strokeStyle = '#404040'; ctx.lineWidth = 1; ctx.setLineDash([4, 4]);
    timeSteps.forEach((t, i) => {
      if (i % 4 !== 0 || i === 0) return;
      const px = Math.round(x.getPixelForTick(i)) + 0.5;
      ctx.beginPath(); ctx.moveTo(px, a.top); ctx.lineTo(px, a.bottom); ctx.stroke();
    });
    leftTicks.forEach(v => {
      if (v === 0) return;
      const py = Math.round(y.getPixelForValue(v)) + 0.5;
      ctx.beginPath(); ctx.moveTo(a.left, py); ctx.lineTo(a.right, py); ctx.stroke();
    });
    ctx.restore();
  },
  afterDatasetsDraw(chart) {
    const {ctx, chartArea: a, scales: {y, y2}} = chart;
    ctx.save();
    ctx.strokeStyle = WHITE; ctx.lineWidth = 1; ctx.setLineDash([]);
    ctx.strokeRect(Math.round(a.left) + 0.5, Math.round(a.top) + 0.5, Math.round(a.right - a.left) - 1, Math.round(a.bottom - a.top) - 1);
    leftTicks.forEach(v => {
      const py = Math.round(y.getPixelForValue(v)) + 0.5;
      ctx.beginPath(); ctx.moveTo(a.left, py); ctx.lineTo(a.left + 4, py); ctx.stroke();
    });
    for (let v = y2.min; v <= y2.max; v += 1) {
      const py = Math.round(y2.getPixelForValue(v)) + 0.5;
      ctx.beginPath(); ctx.moveTo(a.right - 4, py); ctx.lineTo(a.right, py); ctx.stroke();
    }
    ctx.fillStyle = WHITE;
    ctx.textBaseline = 'middle';
    const title = 'Savignano sul Panaro  (IT)  850 hPa Temp. & Niederschlag | Tue, 28Jul2026 06Z';
    ctx.font = 'bold ' + fitSize(ctx, title, 'bold', 708) + 'px ' + COND;
    ctx.textAlign = 'left'; ctx.fillText(title, 80, 12);
    const f1 = 'AIFS Ensemble, 44.5N, 11E', f2 = 'Wetterzentrale.de';
    ctx.font = 'normal ' + fitSize(ctx, f1, 'normal', 216) + 'px ' + COND;
    ctx.fillText(f1, 120, 599);
    ctx.font = 'normal ' + fitSize(ctx, f2, 'normal', 144) + 'px ' + COND;
    ctx.textAlign = 'right'; ctx.fillText(f2, 794, 599);
    ctx.textAlign = 'center';
    ctx.font = 'normal 11px ' + COND;
    ctx.fillText('Date (UTC)', 486, 589);
    ctx.save(); ctx.translate(131, 291); ctx.rotate(-Math.PI / 2); ctx.fillText('850 hPa Temp. (°C)', 0, 0); ctx.restore();
    ctx.save(); ctx.translate(840, 296); ctx.rotate(-Math.PI / 2); ctx.fillText('Niederschlag (mm)', 0, 0); ctx.restore();
    ctx.textAlign = 'left';
    ctx.font = 'normal 11.5px ' + COND;
    memberNames.forEach((name, k) => {
      const col = k % 2, row = Math.floor(k / 2);
      const yy = 40 + row * 15;
      const x0 = col === 0 ? 3 : 79;
      ctx.strokeStyle = palette[k % 20]; ctx.lineWidth = 2;
      ctx.beginPath(); ctx.moveTo(x0, yy); ctx.lineTo(x0 + 11, yy); ctx.stroke();
      ctx.fillText(name, x0 + 11, yy);
    });
    const yEns = 40 + 25 * 15;
    ctx.lineWidth = 3;
    ctx.strokeStyle = MEANCOL; ctx.beginPath(); ctx.moveTo(3, yEns); ctx.lineTo(14, yEns); ctx.stroke();
    ctx.fillText('Ens. mean', 14, yEns);
    ctx.strokeStyle = OPERCOL; ctx.beginPath(); ctx.moveTo(79, yEns); ctx.lineTo(90, yEns); ctx.stroke();
    ctx.fillText('Oper', 90, yEns);
    ctx.strokeStyle = CLIMCOL; ctx.beginPath(); ctx.moveTo(3, 442); ctx.lineTo(14, 442); ctx.stroke();
    ctx.fillText('1991-2020', 14, 442);
    ctx.fillText('mean', 14, 454);
    ctx.restore();
  }
};

new Chart(document.getElementById('c'), {
  type: 'line',
  data: { labels: timeSteps, datasets },
  options: {
    responsive: false, animation: false, devicePixelRatio: 1,
    layout: { padding: { top: 30, left: 0, right: 0, bottom: 0 } },
    elements: { point: { radius: 0, hoverRadius: 0 }, line: { tension: 0, fill: false } },
    plugins: { legend: { display: false }, tooltip: { enabled: false }, title: { display: false } },
    events: [],
    scales: {
      x: {
        type: 'category', offset: false,
        grid: { display: false, drawTicks: false }, border: { display: false },
        ticks: { autoSkip: false, maxRotation: 0, minRotation: 0, color: WHITE, padding: 8,
          font: { family: COND, size: 12 },
          callback: function (v, i) { return i % 8 === 0 ? timeSteps[i] : ''; } },
        afterFit: s => { s.height = 61; }
      },
      y: {
        position: 'left', min: 0, max: 35,
        grid: { display: false, drawTicks: false }, border: { display: false },
        ticks: { stepSize: 2, includeBounds: false, color: WHITE, padding: 9, font: { family: COND, size: 11.5 },
          callback: v => (leftTicks.includes(v) ? String(v) : '') },
        afterFit: s => { s.width = 163; }
      },
      y2: {
        position: 'right', min: 0, max: 40,
        grid: { display: false, drawTicks: false }, border: { display: false },
        ticks: { stepSize: 10, color: WHITE, padding: 7, font: { family: COND, size: 11.5 },
          callback: v => (rightLabels.includes(v) ? String(v) : '') },
        afterFit: s => { s.width = 40; }
      }
    }
  },
  plugins: [decor]
});
</script>
</body></html>
